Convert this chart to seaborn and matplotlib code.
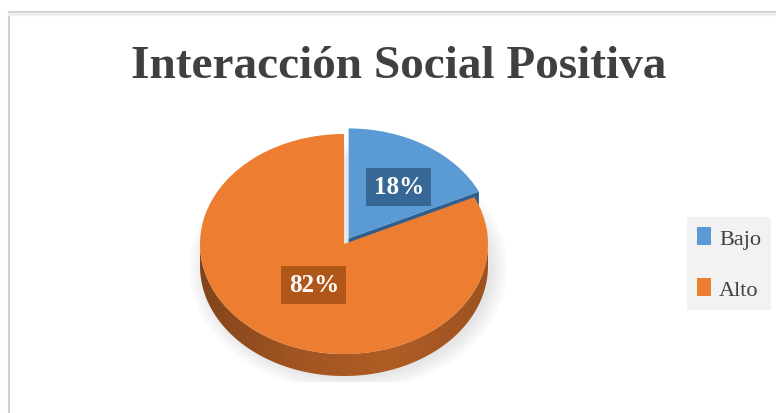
import numpy as np
import matplotlib
matplotlib.use("Agg")
import matplotlib.pyplot as plt
import seaborn as sns
from matplotlib.patches import Polygon, Patch, Ellipse
from matplotlib.lines import Line2D
from matplotlib.colors import to_rgb, LinearSegmentedColormap

# ---- data ----
categories = ["Bajo", "Alto"]
percentages = [18, 82]
title = "Interacción Social Positiva"

# ---- styling ----
top_colors = ["#5B9BD5", "#ED7D31"]
side_colors = ["#2F5F8E", "#A4511A"]
label_box_colors = ["#2B5680", "#9C4A12"]
explode = [0.06, 0.0]
label_xy = [(0.38, 0.52), (-0.21, -0.37)]   # label anchors in pie units
depth = 0.2                                  # thickness of the disc in pie units
SERIF = "Liberation Serif"

sns.set_theme(style="white")
plt.rcParams["font.family"] = SERIF

W, H = 776, 414
fig = plt.figure(figsize=(W / 100, H / 100), dpi=100)
fig.patch.set_facecolor("white")

# pie axes sized so the top face is an ellipse (tilted disc)
cx, cy, rx, ry = 344, 245, 144, 110
lim = 1.25
ax = fig.add_axes([(cx - lim * rx) / W, (H - cy - lim * ry) / H,
                   2 * lim * rx / W, 2 * lim * ry / H])

wedges, _ = ax.pie(percentages, colors=top_colors, startangle=90,
                   counterclock=False, explode=explode, radius=1,
                   wedgeprops=dict(linewidth=0))
for w in wedges:
    w.set_zorder(4)

# soft shadow under the disc
for k in range(8):
    ax.add_patch(Ellipse((0.03, -depth - 0.02), 2.0 + 0.03 * k, 2.0 + 0.035 * k,
                         fc="#7F7F7F", ec="none", alpha=0.025, zorder=0))

# side wall and cut faces, derived from the same wedge angles
fracs = np.array(percentages, dtype=float) / np.sum(percentages)
bounds = np.concatenate([[0], np.cumsum(fracs)])
for i, (f0, f1) in enumerate(zip(bounds[:-1], bounds[1:])):
    a0 = np.deg2rad(90 - 360 * f0)
    a1 = np.deg2rad(90 - 360 * f1)
    mid = (a0 + a1) / 2
    ox, oy = explode[i] * np.cos(mid), explode[i] * np.sin(mid)
    phis = np.linspace(a1, a0, 720)
    vis = phis[np.sin(phis) <= 0]
    if vis.size > 1:
        upper = np.column_stack([ox + np.cos(vis), oy + np.sin(vis)])
        lower = upper[::-1] - [0, depth]
        side = Polygon(np.vstack([upper, lower]), closed=True, fc="none",
                       ec="none", zorder=2)
        ax.add_patch(side)
        base = np.array(to_rgb(top_colors[i]))
        cmap = LinearSegmentedColormap.from_list(
            "side", [base * 0.55, base * 0.68, base * 0.74, base * 0.66])
        grad = np.tile(np.linspace(0, 1, 256), (16, 1))
        im = ax.imshow(grad, cmap=cmap, extent=(ox - 1, ox + 1, oy - 1 - depth, oy),
                       aspect="auto", zorder=2, interpolation="bilinear")
        im.set_clip_path(side)
    # clockwise cut face, visible from the front when the slice is pulled out
    if explode[i] > 0:
        e = a1
        face = [(ox, oy), (ox + np.cos(e), oy + np.sin(e)),
                (ox + np.cos(e), oy + np.sin(e) - depth), (ox, oy - depth)]
        ax.add_patch(Polygon(face, closed=True, fc=side_colors[i],
                             ec="none", zorder=3))

# percentage labels
for (lx, ly), p, bc in zip(label_xy, percentages, label_box_colors):
    ax.text(lx, ly, f"{p}%", ha="center", va="center", fontsize=18,
            fontweight="bold", color="white", zorder=6, family=SERIF,
            bbox=dict(boxstyle="square,pad=0.3", fc=bc, ec="none", alpha=0.75))

ax.set_xlim(-lim, lim)
ax.set_ylim(-lim, lim)
ax.set_aspect("auto")
ax.axis("off")

# title
fig.text(399 / W, 1 - 78 / H, title, ha="center", va="baseline", fontsize=34,
         fontweight="bold", color="#404040", family=SERIF)

# legend
handles = [Patch(fc=c, ec="none", label=l) for c, l in zip(top_colors, categories)]
leg = fig.legend(handles=handles, loc="upper left",
                 bbox_to_anchor=(687 / W, 1 - 218 / H), frameon=True,
                 fancybox=False, facecolor="#F2F2F2", edgecolor="none",
                 framealpha=1, prop=dict(family=SERIF, size=16),
                 handlelength=0.65, handleheight=0.9,
                 handletextpad=0.35, labelspacing=1.3, borderpad=0.45,
                 borderaxespad=0)
for t in leg.get_texts():
    t.set_color("#404040")

# chart frame (left and top edges)
fig.add_artist(Line2D([8.5 / W, 8.5 / W], [0, 1 - 12.5 / H],
                      transform=fig.transFigure, color="#D0D0D0", lw=1.5))
fig.add_artist(Line2D([8.5 / W, 1], [1 - 12.5 / H, 1 - 12.5 / H],
                      transform=fig.transFigure, color="#D0D0D0", lw=1.5))
fig.add_artist(Line2D([8.5 / W, 1], [1 - 15 / H, 1 - 15 / H],
                      transform=fig.transFigure, color="#F0F0F0", lw=2.5))

fig.savefig("out.png", dpi=100, facecolor="white")
